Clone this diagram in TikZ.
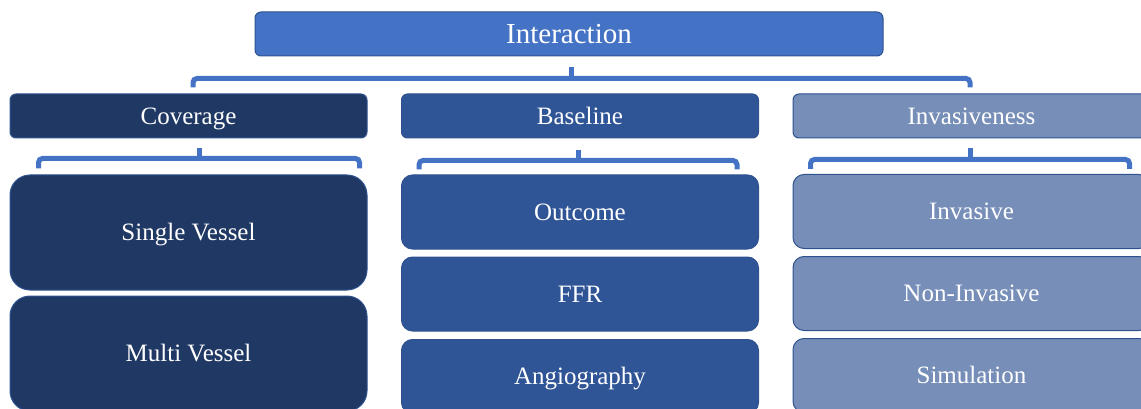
\documentclass[tikz,border=0pt]{standalone}
\usepackage{fontspec}
\setmainfont{Liberation Serif}
\usetikzlibrary{calc}
\definecolor{accent}{HTML}{4472C4}
\definecolor{cdark}{HTML}{203864}
\definecolor{cmid}{HTML}{2F5597}
\definecolor{clight}{HTML}{768EB8}
\definecolor{bord}{HTML}{2F528F}
\tikzset{
  box/.style={draw=bord, line width=1pt, text=white, inner sep=0pt, align=center, text height=22pt, text depth=5.5pt, font=\fontsize{25}{30}\selectfont},
  topbox/.style={box, fill=accent, rounded corners=6pt, minimum width=628pt, minimum height=44pt, text height=25.5pt, text depth=6pt, font=\fontsize{29}{34}\selectfont},
  headbox/.style={box, rounded corners=6pt, minimum width=357pt, minimum height=44pt},
  bigbox/.style={box, rounded corners=20pt, minimum width=357pt, minimum height=115pt},
  smallbox/.style={box, rounded corners=11pt, minimum width=357pt, minimum height=74pt},
  br/.style={draw=accent, line width=5pt, rounded corners=4pt}
}
\begin{document}
\begin{tikzpicture}[x=1pt,y=-1pt]
\useasboundingbox (0,0) rectangle (1141,409);
\clip (0,0) rectangle (1141,409);
\node[topbox] (top) at (569,34) {Interaction};
\node[headbox, fill=cdark] (cov) at (188.5,116) {Coverage};
\node[headbox, fill=cmid] (base) at (580,116) {Baseline};
\node[headbox, fill=clight] (inv) at (971.5,116) {Invasiveness};

\node[bigbox, fill=cdark] (sv) at (188.5,232.5) {Single Vessel};
\node[bigbox, fill=cdark] (mv) at (188.5,353.5) {Multi Vessel};

\node[smallbox, fill=cmid] (out) at (580,212) {Outcome};
\node[smallbox, fill=cmid] (ffr) at (580,294) {FFR};
\node[smallbox, fill=cmid] (ang) at (580,376.5) {Angiography};

\node[smallbox, fill=clight] (ivs) at (971.5,211.5) {Invasive};
\node[smallbox, fill=clight] (niv) at (971.5,293.5) {Non-Invasive};
\node[smallbox, fill=clight] (sim) at (971.5,375.5) {Simulation};

% top bracket
\coordinate (tb) at ($(top.south)+(2,22)$);
\draw[br] ($(cov.north)+(4.5,-6)$) |- (tb) -| ($(inv.north)+(-1.5,-6)$);
\draw[draw=accent, line width=5pt] ($(top.south)+(2,11)$) -- (tb);
% coverage bracket
\coordinate (cb) at ($(cov.south)+(10.5,20)$);
\draw[br] ($(sv.north west)+(29,-6)$) |- (cb) -| ($(sv.north east)+(-8,-6)$);
\draw[draw=accent, line width=5pt] ($(cov.south)+(10.5,10)$) -- (cb);
% baseline bracket
\coordinate (bb) at ($(base.south)+(-2,22)$);
\draw[br] ($(out.north west)+(18,-5)$) |- (bb) -| ($(out.north east)+(-22,-5)$);
\draw[draw=accent, line width=5pt] ($(base.south)+(-2,12)$) -- (bb);
% invasiveness bracket
\coordinate (ib) at ($(inv.south)+(-1.5,21)$);
\draw[br] ($(ivs.north west)+(18,-5)$) |- (ib) -| ($(ivs.north east)+(-21,-5)$);
\draw[draw=accent, line width=5pt] ($(inv.south)+(-1.5,10)$) -- (ib);
\end{tikzpicture}
\end{document}
